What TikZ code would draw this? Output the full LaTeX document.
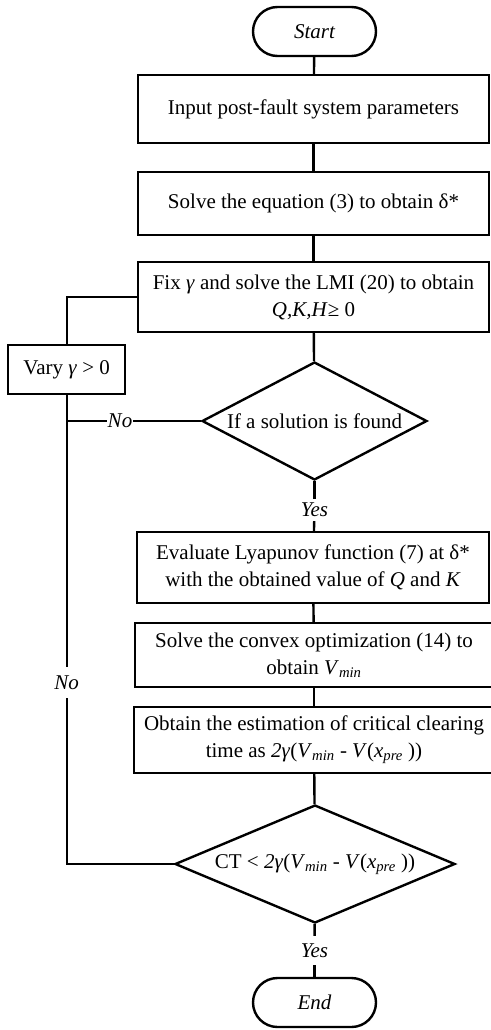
\documentclass[tikz,border=0pt]{standalone}
\usepackage{fontspec}
\setmainfont{Liberation Serif}
\usetikzlibrary{shapes.geometric,shapes.misc}
\begin{document}
\begin{tikzpicture}[x=1pt,y=-1pt,line width=2.4pt,
  font=\fontsize{21}{27}\selectfont,
  procbox/.style={draw,rectangle,align=center,inner sep=0pt},
  termbox/.style={draw,rounded rectangle,inner sep=0pt,minimum width=123pt,minimum height=49pt,font=\itshape\fontsize{21}{24}\selectfont},
  decbox/.style={draw,diamond,inner sep=0pt,aspect=1},
  lbl/.style={fill=white,inner xsep=0pt,inner ysep=0pt,font=\itshape\fontsize{21}{24}\selectfont}]
\useasboundingbox (0,0) rectangle (490,1030);
\node[termbox] (start) at (314.5,31.5) {Start};
\node[procbox,minimum width=351pt,minimum height=68pt] (b1) at (313.5,109) {Input post-fault system parameters};
\node[procbox,minimum width=351pt,minimum height=63pt] (b2) at (313.5,203.5) {Solve the equation (3) to obtain δ*};
\node[procbox,minimum width=351pt,minimum height=70pt] (b3) at (313.5,297) {Fix \textit{γ} and solve the LMI (20) to obtain\\\textit{Q,K,H}≥ 0};
\node[procbox,minimum width=117pt,minimum height=49pt] (vary) at (66.7,369.5) {Vary \textit{γ} > 0};
\node[decbox,minimum width=225pt,minimum height=118pt] (d1) at (314.5,421) {\makebox[0pt]{If a solution is found}};
\node[lbl,minimum height=20pt] (yes1) at (314.5,510) {Yes};
\node[procbox,minimum width=352pt,minimum height=71pt] (b4) at (313,567.5) {Evaluate Lyapunov function (7) at δ*\\with the obtained value of \textit{Q} and \textit{K}};
\node[procbox,minimum width=358pt,minimum height=64pt] (b5) at (314,655) {Solve the convex optimization (14) to\\obtain \textit{V}\textsubscript{\textit{min}}};
\node[procbox,minimum width=360pt,minimum height=66pt] (b6) at (314,740) {Obtain the estimation of critical clearing\\time as \textit{2γ}(\textit{V}\textsubscript{\textit{min}} - \textit{V}(\textit{x}\textsubscript{\textit{pre}} ))};
\node[decbox,minimum width=280pt,minimum height=118pt] (d2) at (315,864) {\makebox[0pt]{CT < \textit{2γ}(\textit{V}\textsubscript{\textit{min}} - \textit{V}(\textit{x}\textsubscript{\textit{pre}} ))}};
\node[lbl,minimum height=27pt] (yes2) at (314.5,950.5) {Yes};
\node[termbox] (end) at (314.5,1002.5) {End};
\node[lbl] (no1) at (120,421) {No};
\node[lbl,minimum height=29pt] (no2) at (66.7,682.5) {No};
\coordinate (j1) at (66.7,421);
\draw (start) -- (b1);
\draw (b1) -- (b2);
\draw (b2) -- (b3);
\draw (b3) -- (d1);
\draw (d1) -- (yes1);
\draw (yes1) -- (b4);
\draw (b4) -- (b5);
\draw (b5) -- (b6);
\draw (b6) -- (d2);
\draw (d2) -- (yes2);
\draw (yes2) -- (end);
\draw (b3.west) -| (vary.north);
\draw (d1.west) -- (no1) -- (j1);
\draw (vary.south) -- (no2);
\draw (no2) |- (d2.west);
\end{tikzpicture}
\end{document}
